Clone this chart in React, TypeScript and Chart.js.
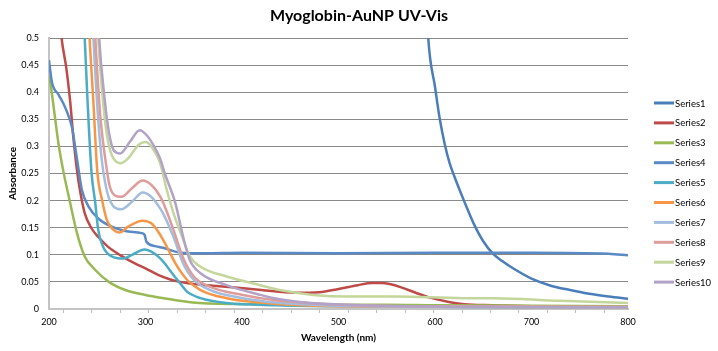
import React, { useEffect, useRef } from "react";
import { Chart, registerables } from "chart.js";

Chart.register(...registerables);

// ---- data (wavelength in nm, absorbance) ----
const seriesNames = ["Series1", "Series2", "Series3", "Series4", "Series5", "Series6", "Series7", "Series8", "Series9", "Series10"];
const seriesColors = ["#4A7EBB", "#BE4B48", "#98B954", "#5A8AC6", "#4BACC6", "#F79646", "#A2BDDD", "#DE9C9A", "#C3D69B", "#B3A2C7"];

const s1Wl = [200, 500, 580, 588, 593, 600, 605, 610, 615, 620, 630, 640, 650, 660, 670, 680, 700, 720, 740, 760, 780, 800];
const s1Abs = [3.0, 3.0, 1.2, 0.7, 0.5, 0.41, 0.35, 0.305, 0.27, 0.245, 0.2, 0.158, 0.125, 0.102, 0.088, 0.076, 0.056, 0.043, 0.035, 0.028, 0.023, 0.019];

const s2Wl = [200, 208, 213, 218, 222, 225, 229, 232, 237, 244, 251, 261, 275, 289, 300, 313, 325, 336, 350, 370, 390, 420, 455, 480, 500, 520, 535, 545, 553, 565, 580, 593, 612, 630, 660, 700, 750, 800];
const s2Abs = [0.8, 0.6, 0.5, 0.444, 0.382, 0.321, 0.256, 0.22, 0.177, 0.149, 0.133, 0.115, 0.098, 0.084, 0.075, 0.063, 0.055, 0.05, 0.046, 0.043, 0.04, 0.035, 0.03, 0.031, 0.037, 0.044, 0.048, 0.048, 0.046, 0.04, 0.03, 0.022, 0.014, 0.009, 0.007, 0.005, 0.004, 0.004];

const s3Wl = [200, 202, 205, 210, 215, 222, 229, 237, 248, 262, 279, 300, 319, 349, 400, 450, 500, 550, 600, 700, 800];
const s3Abs = [0.43, 0.41, 0.37, 0.303, 0.253, 0.195, 0.14, 0.097, 0.072, 0.05, 0.035, 0.026, 0.02, 0.012, 0.009, 0.008, 0.008, 0.008, 0.007, 0.006, 0.005];

const s4Wl = [200, 203, 210, 217, 224, 227, 230, 234, 241, 251, 265, 279, 296, 299, 301, 310, 320, 336, 360, 400, 500, 600, 700, 780, 800];
const s4Abs = [0.459, 0.419, 0.395, 0.371, 0.334, 0.3, 0.265, 0.22, 0.189, 0.167, 0.152, 0.144, 0.14, 0.137, 0.124, 0.116, 0.112, 0.104, 0.103, 0.104, 0.103, 0.104, 0.104, 0.102, 0.099];

const s5Wl = [200, 225, 233, 237, 240, 244, 248, 251, 256, 265, 277, 286, 299, 306, 313, 320, 325, 336, 343, 357, 384, 436, 500, 600, 700, 800];
const s5Abs = [3.0, 1.2, 0.65, 0.5, 0.382, 0.253, 0.195, 0.146, 0.115, 0.097, 0.093, 0.1, 0.11, 0.106, 0.097, 0.084, 0.072, 0.047, 0.032, 0.02, 0.011, 0.007, 0.005, 0.004, 0.003, 0.003];

const s6Wl = [200, 230, 238, 242, 246, 250, 255, 260, 267, 273, 282, 297, 306, 313, 320, 325, 331, 343, 357, 384, 419, 450, 500, 600, 800];
const s6Abs = [3.0, 1.2, 0.65, 0.5, 0.382, 0.255, 0.201, 0.164, 0.146, 0.141, 0.152, 0.163, 0.158, 0.143, 0.122, 0.105, 0.084, 0.054, 0.035, 0.02, 0.012, 0.008, 0.005, 0.004, 0.003];

const s7Wl = [200, 235, 242, 246, 251, 255, 258, 262, 267, 275, 286, 297, 306, 315, 320, 329, 339, 350, 367, 401, 435, 500, 600, 800];
const s7Abs = [3.0, 1.2, 0.65, 0.5, 0.35, 0.27, 0.235, 0.205, 0.189, 0.184, 0.198, 0.215, 0.207, 0.186, 0.17, 0.133, 0.084, 0.054, 0.035, 0.02, 0.012, 0.006, 0.004, 0.003];

const s8Wl = [200, 237, 244, 248, 253, 260, 263, 268, 275, 286, 297, 306, 316, 322, 329, 339, 350, 367, 401, 435, 500, 600, 800];
const s8Abs = [3.0, 1.2, 0.65, 0.5, 0.36, 0.256, 0.226, 0.21, 0.207, 0.223, 0.237, 0.229, 0.205, 0.18, 0.146, 0.094, 0.06, 0.041, 0.026, 0.016, 0.008, 0.005, 0.004];

const s9Wl = [200, 238, 246, 251, 256, 260, 265, 274, 282, 293, 300, 306, 315, 322, 329, 338, 346, 357, 384, 412, 439, 474, 508, 560, 629, 660, 730, 800];
const s9Abs = [3.0, 1.5, 0.7, 0.5, 0.382, 0.321, 0.284, 0.269, 0.278, 0.303, 0.308, 0.3, 0.27, 0.22, 0.177, 0.133, 0.097, 0.078, 0.06, 0.047, 0.035, 0.026, 0.023, 0.023, 0.02, 0.02, 0.015, 0.011];

const s10Wl = [200, 239, 247, 252, 258, 262, 267, 274, 284, 294, 301, 308, 315, 320, 331, 339, 346, 357, 384, 419, 439, 480, 550, 650, 800];
const s10Abs = [3.0, 1.5, 0.7, 0.5, 0.382, 0.327, 0.293, 0.287, 0.309, 0.33, 0.321, 0.303, 0.278, 0.25, 0.195, 0.133, 0.09, 0.066, 0.044, 0.026, 0.018, 0.01, 0.006, 0.004, 0.003];

const seriesWl = [s1Wl, s2Wl, s3Wl, s4Wl, s5Wl, s6Wl, s7Wl, s8Wl, s9Wl, s10Wl];
const seriesAbs = [s1Abs, s2Abs, s3Abs, s4Abs, s5Abs, s6Abs, s7Abs, s8Abs, s9Abs, s10Abs];

const xLabelValues = [200, 300, 400, 500, 600, 700, 800];
const xMinorTicks = [215, 244.5, 274, 303.5, 333, 362.5, 392, 421.5, 451, 480.5, 510, 539.5, 569, 598.5, 628, 657.5, 687, 716.5, 746, 775.5];

const FONT = "Lato, 'Open Sans', sans-serif";

const legendPlugin = {
  id: "sideLegend",
  afterDraw(chart: any) {
    const { ctx, chartArea } = chart;
    ctx.save();
    ctx.font = `9.5px ${FONT}`;
    ctx.textBaseline = "middle";
    ctx.textAlign = "left";
    seriesNames.forEach((name, i) => {
      const y = chartArea.top + 65 + i * 19.9;
      const x0 = chartArea.right + 26;
      ctx.strokeStyle = seriesColors[i];
      ctx.lineWidth = 3;
      ctx.beginPath();
      ctx.moveTo(x0, y);
      ctx.lineTo(x0 + 20, y);
      ctx.stroke();
      ctx.fillStyle = "#000";
      ctx.fillText(name, x0 + 21, y + 0.5);
    });
    ctx.restore();
  },
};

export default function App() {
  const ref = useRef<HTMLCanvasElement>(null);
  useEffect(() => {
    document.body.style.margin = "0";
    const canvas = ref.current!;
    const datasets = seriesNames.map((name, i) => ({
      label: name,
      data: seriesWl[i].map((w, j) => ({ x: w, y: seriesAbs[i][j] })),
      borderColor: seriesColors[i],
      backgroundColor: seriesColors[i],
      borderWidth: 2.5,
      pointRadius: 0,
      cubicInterpolationMode: "monotone" as const,
      fill: false,
      order: seriesNames.length - i,
    }));
    const chart = new Chart(canvas, {
      type: "line",
      data: { datasets },
      plugins: [legendPlugin],
      options: {
        animation: false,
        responsive: false,
        maintainAspectRatio: false,
        layout: { padding: 0 },
        plugins: {
          legend: { display: false },
          tooltip: { enabled: false },
          title: {
            display: true,
            text: "Myoglobin-AuNP UV-Vis",
            color: "#000",
            font: { family: FONT, size: 16, weight: "bold", lineHeight: 1.2 },
            padding: { top: 6, bottom: 12.8 },
          },
        },
        scales: {
          x: {
            type: "linear",
            min: 200,
            max: 800,
            afterBuildTicks: (scale: any) => {
              scale.ticks = [...xLabelValues, ...xMinorTicks].sort((a, b) => a - b).map((v) => ({ value: v }));
            },
            afterFit: (scale: any) => {
              scale.height = 42;
            },
            ticks: {
              autoSkip: false,
              maxRotation: 0,
              minRotation: 0,
              padding: 4,
              color: "#000",
              font: { family: FONT, size: 9 },
              callback: (v: any) => (xLabelValues.includes(v) ? String(v) : ""),
            },
            grid: {
              display: true,
              drawOnChartArea: false,
              drawTicks: true,
              tickLength: 4,
              tickColor: (ctx: any) => (ctx.tick && xLabelValues.includes(ctx.tick.value) ? "rgba(0,0,0,0)" : "#bfbfbf"),
            },
            border: { display: true, color: "#c4c4c4", width: 2 },
            title: {
              display: true,
              text: "Wavelength (nm)",
              color: "#000",
              font: { family: FONT, size: 10, weight: "bold", lineHeight: 1.2 },
              padding: { top: 0, bottom: 7 },
            },
          },
          y: {
            type: "linear",
            min: 0,
            max: 0.5,
            afterFit: (scale: any) => {
              scale.width = 49;
            },
            ticks: {
              stepSize: 0.05,
              padding: 10,
              color: "#000",
              font: { family: FONT, size: 9 },
              callback: (v: any) => String(parseFloat(Number(v).toFixed(2))),
            },
            grid: {
              color: "#8a8a8a",
              lineWidth: 1,
              drawTicks: false,
            },
            border: { display: true, color: "#c4c4c4", width: 2 },
            title: {
              display: true,
              text: "Absorbance",
              color: "#000",
              font: { family: FONT, size: 10, weight: "bold", lineHeight: 1.2 },
              padding: { top: 7, bottom: 0 },
            },
          },
          legendSpace: {
            type: "linear",
            position: "right",
            min: 0,
            max: 1,
            grid: { display: false, drawTicks: false },
            border: { display: false },
            ticks: { display: false },
            afterFit: (scale: any) => {
              scale.width = 90;
            },
          },
        },
      },
    });
    return () => chart.destroy();
  }, []);
  return (
    <div style={{ position: "fixed", left: 0, top: 0, width: 718, height: 351, background: "#fff" }}>
      <canvas ref={ref} width={718} height={351} style={{ display: "block" }} />
    </div>
  );
}
